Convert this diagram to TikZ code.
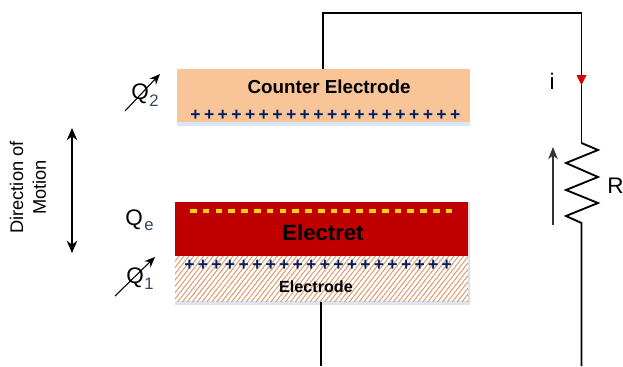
\documentclass[tikz,border=0pt]{standalone}
\usepackage{fontspec}
\setmainfont{Liberation Sans}
\usetikzlibrary{arrows.meta,patterns.meta}
\definecolor{peach}{RGB}{248,196,152}
\definecolor{darkred}{RGB}{192,0,0}
\definecolor{navyplus}{RGB}{0,32,96}
\definecolor{subblue}{RGB}{50,70,100}
\definecolor{shadowblue}{RGB}{220,230,242}
\definecolor{hatchline}{RGB}{222,150,105}
\definecolor{dashyellow}{RGB}{255,215,0}
\tikzset{
  wire/.style={line width=1.05pt, black},
  plate/.style={draw=none, minimum height=#1*0.02cm, inner sep=0pt, minimum width=5.86cm},
  plusmark/.style={font=\bfseries\fontsize{10}{10}\selectfont, text=navyplus, inner sep=0pt},
  title/.style={font=\bfseries\fontsize{10.7}{12}\selectfont, inner sep=0pt},
  varcap/.style={-{Stealth[length=6pt,width=5pt]}, line width=0.6pt},
  symbol/.style={font=\fontsize{12.8}{14}\selectfont, inner sep=0pt},
  subscript/.style={font=\fontsize{9.5}{10}\selectfont, inner sep=0pt, text=subblue}
}
\begin{document}
\begin{tikzpicture}[x=0.02cm,y=-0.02cm]
  \useasboundingbox (0,0) rectangle (623,366);
  % Plate shadows
  \fill[shadowblue] (177,122) rectangle (470,126);
  \fill[shadowblue] (175,301) rectangle (470,305);
  \fill[black!12] (468,202) rectangle (470,303);
  % Counter electrode
  \node[plate=53, fill=peach] (counter) at (323.5,95.5) {};
  \node[title] (counterlabel) at (329,87) {Counter Electrode};
  \foreach \i in {0,...,19}{
    \node[plusmark] (cp\i) at ({195.5+\i*13.67},115.5) {+};
  }
  % Electret
  \node[plate=54, fill=darkred] (electret) at (321.5,229) {};
  \node[title, font=\bfseries\fontsize{12.6}{14}\selectfont] (electretlabel) at (323,233) {Electret};
  \draw[dashyellow, line width=1.8pt, dash pattern=on 3.8pt off 3.48pt] (190,211) -- (453,211);
  % Electrode
  \node[plate=45, pattern={Lines[angle=52,distance=2.2pt,line width=0.55pt]}, pattern color=hatchline] (electrode) at (321.5,279) {};
  \node[title, font=\bfseries\fontsize{9.2}{10}\selectfont] (electrodelabel) at (316,286.5) {Electrode};
  \foreach \i in {0,...,19}{
    \node[plusmark] (ep\i) at ({189.5+\i*13.54},265.5) {+};
  }
  % Wires
  \coordinate (topleft) at (323,13);
  \coordinate (topright) at (581.5,13);
  \coordinate (restop) at (581.5,143);
  \coordinate (resbot) at (581.5,223);
  \coordinate (outright) at (581.5,366);
  \coordinate (outleft) at (321,366);
  \draw[wire] (counter.north -| topleft) -- (topleft) -- (topright) -- (restop);
  \draw[wire] (electrode.south -| outleft) -- (outleft);
  % Resistor
  \draw[wire, line join=miter] (restop) -- (598,150) -- (566,163) -- (598,177) -- (566,190)
    -- (598,203) -- (566,216) -- (resbot) -- (outright);
  % Current arrow
  \fill[red!85!black] (576.5,75) -- (586.5,75) -- (581.5,85) -- cycle;
  \node[symbol] (current) at (552,81) {i};
  \node[symbol] (resistor) at (615.5,186) {R};
  \coordinate (vlow) at (553,225);
  \coordinate (vhigh) at (553,147);
  \draw[-{Stealth[length=7pt,width=5.5pt]}, line width=0.6pt, black!80] (vlow) -- (vhigh);
  % Charges
  \node[symbol] (qtwo) at (140,94) {Q};
  \node[subscript] (qtwosub) at (154,101) {2};
  \node[symbol] (qe) at (134,220) {Q};
  \node[subscript] (qesub) at (149,226) {e};
  \node[symbol] (qone) at (135,277.5) {Q};
  \node[subscript] (qonesub) at (149,283.5) {1};
  \coordinate (qtwoa) at (125,111);
  \coordinate (qtwob) at (160,74);
  \coordinate (qonea) at (115,296);
  \coordinate (qoneb) at (155,257);
  \draw[varcap] (qtwoa) -- (qtwob);
  \draw[varcap] (qonea) -- (qoneb);
  % Motion
  \coordinate (motiontop) at (72,128);
  \coordinate (motionbot) at (72,253);
  \draw[{Stealth[length=7pt,width=6pt]}-{Stealth[length=7pt,width=6pt]}, line width=0.6pt] (motiontop) -- (motionbot);
  \node[rotate=90, align=center, font=\fontsize{10.4}{13}\selectfont, inner sep=0pt] (motion) at (28,187.5) {Direction of\\Motion};
\end{tikzpicture}
\end{document}
